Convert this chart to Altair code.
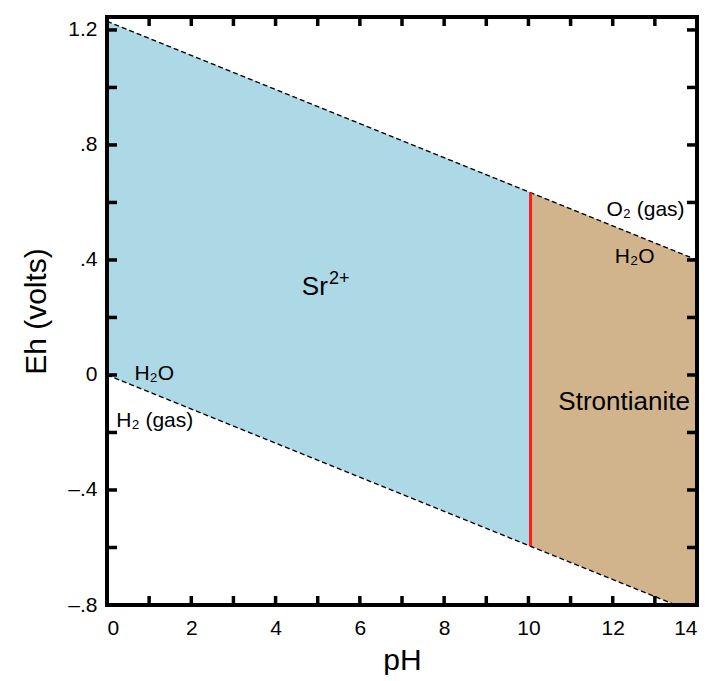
import altair as alt
import pandas as pd

FONT = "Liberation Sans"

# water stability limits (Eh vs pH)
line_ph = [0.0, 14.0]
o2_line_eh = [1.23, 0.40]
h2_line_eh = [0.0, -0.83]

# Sr2+ field
sr_ph = [0.0, 10.05]
sr_top = [1.23, 0.635]
sr_bot = [0.0, -0.595]

# Strontianite field
st_ph = [10.05, 14.0]
st_top = [0.635, 0.40]
st_bot = [-0.595, -0.83]

# boundary Sr2+ / strontianite
boundary_ph = [10.05]
boundary_lo = [-0.595]
boundary_hi = [0.635]

# ticks
x_ticks = list(range(1, 14))
y_ticks = [-0.6, -0.4, -0.2, 0.0, 0.2, 0.4, 0.6, 0.8, 1.0, 1.2]
x_label_values = [0, 2, 4, 6, 8, 10, 12, 14]
y_label_values = [-0.8, -0.4, 0.0, 0.4, 0.8, 1.2]

# small labels
small_text = ["H\u2082O", "H\u2082 (gas)", "O\u2082 (gas)", "H\u2082O"]
small_ph = [0.65, 0.22, 11.85, 12.05]
small_eh = [0.005, -0.16, 0.575, 0.41]

# field labels
big_text = ["Strontianite", "Sr"]
big_ph = [12.27, 5.24]
big_eh = [-0.095, 0.305]
sup_text = ["2+"]
sup_ph = [5.27]
sup_eh = [0.335]

W, H = 590, 588

xs = alt.Scale(domain=[0, 14], nice=False, zero=False)
ys = alt.Scale(domain=[-0.8, 1.245], nice=False, zero=False)

xaxis = alt.Axis(values=x_label_values, ticks=False, domain=False, grid=False,
                 labelFontSize=21, labelPadding=12, labelFont=FONT, labelColor="black",
                 titleFontSize=30, titleFont=FONT, titleFontWeight="normal",
                 titleColor="black", titlePadding=7)
yaxis = alt.Axis(values=y_label_values, ticks=False, domain=False, grid=False,
                 labelFontSize=21, labelPadding=10, labelFont=FONT, labelColor="black",
                 labelExpr="abs(datum.value) < 1e-9 ? '0' : (datum.value < 0 ? '\u2013' : '') + replace(format(abs(datum.value), '.1f'), '0.', '.')",
                 titleFontSize=30, titleFont=FONT, titleFontWeight="normal",
                 titleColor="black", titlePadding=16)


def X(field):
    return alt.X(f"{field}:Q", scale=xs, axis=xaxis, title="pH")


def Y(field):
    return alt.Y(f"{field}:Q", scale=ys, axis=yaxis, title="Eh (volts)")


sr_df = pd.DataFrame({"ph": sr_ph, "top": sr_top, "bot": sr_bot})
st_df = pd.DataFrame({"ph": st_ph, "top": st_top, "bot": st_bot})
line_df = pd.DataFrame({"ph": line_ph + line_ph,
                        "eh": o2_line_eh + h2_line_eh,
                        "which": ["o2", "o2", "h2", "h2"]})
bnd_df = pd.DataFrame({"ph": boundary_ph, "lo": boundary_lo, "hi": boundary_hi})

sr_area = alt.Chart(sr_df).mark_area(color="#add8e6", clip=True).encode(
    x=X("ph"), y=Y("top"), y2="bot:Q")
st_area = alt.Chart(st_df).mark_area(color="#d2b48c", clip=True).encode(
    x=X("ph"), y=Y("top"), y2="bot:Q")

lines = alt.Chart(line_df).mark_line(color="black", strokeWidth=1.4,
                                     strokeDash=[5, 3], clip=True).encode(
    x=X("ph"), y=Y("eh"), detail="which:N")

boundary = alt.Chart(bnd_df).mark_rule(color="#ff1a1a", strokeWidth=3).encode(
    x=X("ph"), y=Y("lo"), y2="hi:Q")

small_df = pd.DataFrame({"t": small_text, "ph": small_ph, "eh": small_eh})
small_labels = alt.Chart(small_df).mark_text(
    align="left", baseline="middle", fontSize=21, font=FONT, color="black").encode(
    x=X("ph"), y=Y("eh"), text="t:N")

strontianite_df = pd.DataFrame({"t": big_text[:1], "ph": big_ph[:1], "eh": big_eh[:1]})
strontianite_label = alt.Chart(strontianite_df).mark_text(
    align="center", baseline="middle", fontSize=26, font=FONT, color="black").encode(
    x=X("ph"), y=Y("eh"), text="t:N")

sr_df_lbl = pd.DataFrame({"t": big_text[1:], "ph": big_ph[1:], "eh": big_eh[1:]})
sr_label = alt.Chart(sr_df_lbl).mark_text(
    align="right", baseline="middle", fontSize=26, font=FONT, color="black").encode(
    x=X("ph"), y=Y("eh"), text="t:N")

sup_df = pd.DataFrame({"t": sup_text, "ph": sup_ph, "eh": sup_eh})
sup_label = alt.Chart(sup_df).mark_text(
    align="left", baseline="middle", fontSize=18, font=FONT, color="black").encode(
    x=X("ph"), y=Y("eh"), text="t:N")

xt_df = pd.DataFrame({"ph": x_ticks})
yt_df = pd.DataFrame({"eh": y_ticks})
TL = 9
TW = 3.5
xt_bottom = alt.Chart(xt_df).mark_rule(color="black", strokeWidth=TW).encode(
    x=X("ph"), y=alt.value(H), y2=alt.value(H - TL))
xt_top = alt.Chart(xt_df).mark_rule(color="black", strokeWidth=TW).encode(
    x=X("ph"), y=alt.value(0), y2=alt.value(TL))
yt_left = alt.Chart(yt_df).mark_rule(color="black", strokeWidth=TW).encode(
    y=Y("eh"), x=alt.value(0), x2=alt.value(TL + 1))
yt_right = alt.Chart(yt_df).mark_rule(color="black", strokeWidth=TW).encode(
    y=Y("eh"), x=alt.value(W), x2=alt.value(W - TL - 1))

frame = alt.Chart(pd.DataFrame({"a": [0]})).mark_rect(
    fillOpacity=0, stroke="black", strokeWidth=4).encode(
    x=alt.value(0), x2=alt.value(W), y=alt.value(0), y2=alt.value(H))

chart = alt.layer(
    sr_area, st_area, lines, boundary,
    small_labels, strontianite_label, sr_label, sup_label,
    xt_bottom, xt_top, yt_left, yt_right, frame
).properties(
    width=W, height=H,
    autosize=alt.AutoSizeParams(type="none"),
    padding={"left": 99, "top": 9, "right": 4, "bottom": 70},
).configure_view(stroke=None)

chart.save("out.html", embed_options={"renderer": "svg", "actions": False})
